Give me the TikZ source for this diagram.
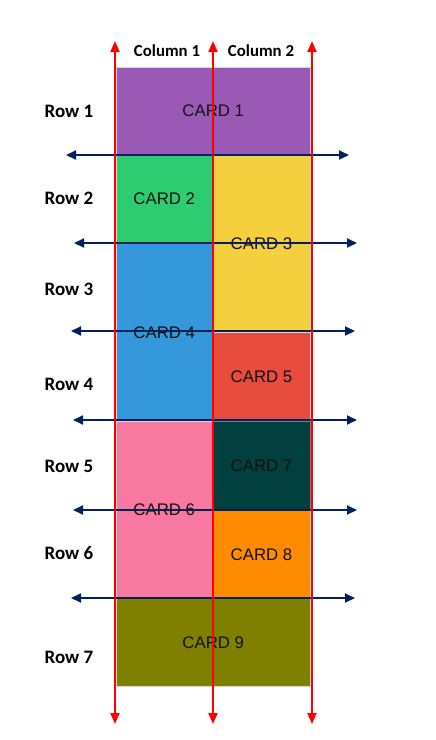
\documentclass[tikz,border=0pt]{standalone}
\usepackage{fontspec}
\setmainfont{Liberation Sans}
\newfontfamily\calib{Carlito}
\usetikzlibrary{arrows.meta}
\definecolor{cpurple}{HTML}{9B59B6}
\definecolor{cgreen}{HTML}{2ECC71}
\definecolor{cyellow}{HTML}{F4D03F}
\definecolor{cblue}{HTML}{3498DB}
\definecolor{cred}{HTML}{E74C3C}
\definecolor{cteal}{HTML}{023F3F}
\definecolor{cpink}{HTML}{F778A1}
\definecolor{corange}{HTML}{FF8C00}
\definecolor{colive}{HTML}{808000}
\definecolor{navy}{HTML}{002060}
\definecolor{cardtext}{HTML}{111111}
\tikzset{
  card/.style={draw=white!85!black, line width=0.8pt, inner sep=0pt, text=cardtext,
    font=\fontsize{16.8}{18}\selectfont},
  rowlabel/.style={font=\calib\bfseries\fontsize{19}{21}\selectfont, inner sep=0pt},
  collabel/.style={font=\calib\bfseries\fontsize{16.8}{18}\selectfont, inner sep=0pt},
  colarrow/.style={draw=red, line width=2pt, -{Triangle[length=11pt,width=9pt]}},
  rowarrow/.style={draw=navy, line width=2pt, {Triangle[length=10pt,width=9pt]}-{Triangle[length=10pt,width=9pt]}}
}
\begin{document}
\begin{tikzpicture}[x=1pt,y=-1pt]
\useasboundingbox (0,0) rectangle (436,740);
% cards
\node[card, fill=cpurple, minimum width=194.5, minimum height=87.5] (c1) at (213.25,110.75) {CARD 1};
\node[card, fill=cgreen, minimum width=96.5, minimum height=89] (c2) at (164.25,199) {CARD 2};
\node[card, fill=cyellow, minimum width=98, minimum height=177.5] (c3) at (261.5,243.25) {CARD 3};
\node[card, fill=cblue, minimum width=96.5, minimum height=177.5] (c4) at (164.25,332.25) {CARD 4};
\node[card, fill=cred, minimum width=98, minimum height=89] (c5) at (261.5,376.5) {CARD 5};
\node[card, fill=cpink, minimum width=96.5, minimum height=177.5] (c6) at (164.25,509.75) {CARD 6};
\node[card, fill=cteal, draw=gray, minimum width=98, minimum height=89] (c7) at (261.5,465.5) {CARD 7};
\node[card, fill=corange, minimum width=98, minimum height=88.5] (c8) at (261.5,554.25) {CARD 8};
\node[card, fill=colive, minimum width=194.5, minimum height=88] (c9) at (213.25,642.5) {CARD 9};
% labels
\node[collabel] (col1) at (167,51) {Column 1};
\node[collabel] (col2) at (261,51) {Column 2};
\node[rowlabel] (r1) at (69,111) {Row 1};
\node[rowlabel] (r2) at (69,198) {Row 2};
\node[rowlabel] (r3) at (69,289) {Row 3};
\node[rowlabel] (r4) at (69,384) {Row 4};
\node[rowlabel] (r5) at (69,466) {Row 5};
\node[rowlabel] (r6) at (69,553) {Row 6};
\node[rowlabel] (r7) at (69,657) {Row 7};
% row arrows
\coordinate (h1a) at (66,155);  \coordinate (h1b) at (349,155);
\coordinate (h2a) at (74,243);  \coordinate (h2b) at (357,243);
\coordinate (h3a) at (71,331);  \coordinate (h3b) at (355,331);
\coordinate (h4a) at (73,420);  \coordinate (h4b) at (357,420);
\coordinate (h5a) at (73,510);  \coordinate (h5b) at (357,510);
\coordinate (h6a) at (71,598);  \coordinate (h6b) at (355,598);
\foreach \i in {1,...,6} {\draw[rowarrow] (h\i a) -- (h\i b);}
% column arrows
\coordinate (v1a) at (115,724);   \coordinate (v1b) at (115,41);
\coordinate (v2a) at (213,724);   \coordinate (v2b) at (213,41);
\coordinate (v3a) at (312,724);   \coordinate (v3b) at (312,41);
\foreach \i in {1,2,3} {
  \path (v\i a) -- coordinate (v\i m) (v\i b);
  \draw[colarrow] (v\i m) -- (v\i a);
  \draw[colarrow] (v\i m) -- (v\i b);
}
\end{tikzpicture}
\end{document}
